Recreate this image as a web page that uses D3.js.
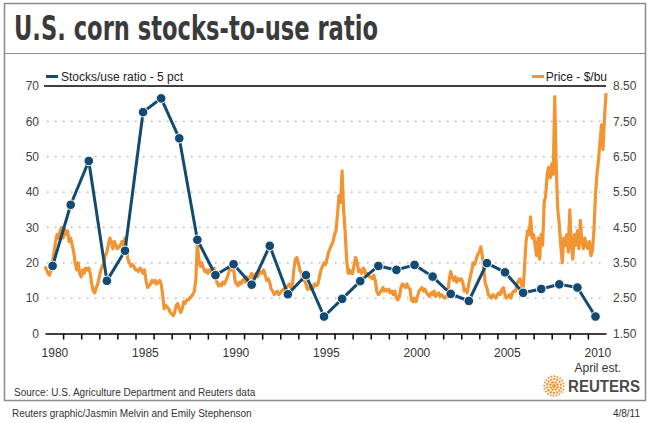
<!DOCTYPE html>
<html lang="en">
<head>
  <meta charset="UTF-8">
  <script src="https://d3js.org/d3.v7.min.js"></script>
  <style>
    body { margin: 0; background: #fff; }
    svg text { font-family: "Liberation Sans", Arial, sans-serif; }
  </style>
</head>
<body>
<div id="my_dataviz"></div>
<script>
  // crop years, one stocks/use ratio point per year (pct)
  var years = [1980, 1981, 1982, 1983, 1984, 1985, 1986, 1987, 1988, 1989,
               1990, 1991, 1992, 1993, 1994, 1995, 1996, 1997, 1998, 1999,
               2000, 2001, 2002, 2003, 2004, 2005, 2006, 2007, 2008, 2009, 2010];
  var stocksToUse = [19.1, 36.4, 48.8, 14.9, 23.4, 62.6, 66.5, 55.2, 26.5, 16.5,
                     19.6, 13.8, 24.8, 11.1, 16.5, 4.8, 9.8, 14.8, 19.1, 18.0,
                     19.4, 16.1, 11.2, 9.2, 19.9, 17.3, 11.5, 12.6, 13.9, 13.0, 4.8];

  // corn price, $/bu, one value per month starting Jan 1980
  var priceStart = 1980;
  var priceMonthly = [
    3.4, 3.3, 3.2, 3.15, 3.3, 3.5, 3.8, 4.1, 4.3, 4.2, 4.4, 4.5,        // 1980
    4.2, 4.45, 4.3, 4.4, 4.1, 4.2, 4.0, 3.8, 3.5, 3.3, 3.5, 3.2,        // 1981
    3.1, 3.3, 3.2, 3.35, 3.3, 3.35, 3.2, 2.9, 2.7, 2.65, 2.8, 2.9,      // 1982
    3.1, 3.3, 3.4, 3.5, 3.7, 3.8, 4.0, 4.2, 4.1, 3.9, 4.1, 4.0,         // 1983
    3.9, 3.95, 4.0, 4.1, 4.0, 4.2, 3.9, 3.6, 3.5, 3.4, 3.45, 3.4,       // 1984
    3.3, 3.3, 3.25, 3.35, 3.3, 3.2, 3.3, 3.0, 2.8, 2.85, 2.9, 3.0,      // 1985
    2.95, 3.0, 2.9, 2.95, 3.0, 2.9, 2.6, 2.2, 2.3, 2.25, 2.2, 2.1,      // 1986
    2.05, 2.0, 2.1, 2.3, 2.35, 2.2, 2.1, 2.2, 2.4, 2.35, 2.45, 2.45,    // 1987
    2.5, 2.55, 2.6, 2.7, 3.0, 4.05, 3.6, 3.4, 3.5, 3.35, 3.25, 3.3,     // 1988
    3.2, 3.3, 3.25, 3.15, 3.35, 3.1, 2.95, 2.85, 2.9, 2.85, 2.95, 2.9,  // 1989
    3.0, 3.1, 3.25, 3.4, 3.3, 3.35, 3.0, 2.9, 2.85, 2.95, 2.9, 3.0,     // 1990
    3.05, 2.95, 3.1, 3.05, 3.1, 3.2, 3.05, 3.15, 3.2, 3.1, 3.2, 3.25,   // 1991
    3.2, 3.3, 3.15, 3.0, 3.05, 2.95, 2.75, 2.7, 2.6, 2.65, 2.7, 2.6,    // 1992
    2.65, 2.7, 2.75, 2.65, 2.8, 2.85, 2.9, 2.8, 2.85, 3.3, 3.6, 3.65,   // 1993
    3.5, 3.3, 3.2, 3.0, 3.05, 2.9, 2.75, 2.8, 2.75, 2.85, 2.8, 2.9,     // 1994
    2.85, 2.9, 3.1, 3.3, 3.4, 3.5, 3.45, 3.6, 3.8, 3.9, 4.0, 4.1,       // 1995
    4.3, 4.4, 4.9, 5.4, 5.2, 6.1, 5.0, 4.4, 3.6, 3.2, 3.3, 3.2,         // 1996
    3.2, 3.45, 3.65, 3.5, 3.25, 3.3, 3.2, 3.35, 3.3, 3.15, 3.2, 3.1,    // 1997
    3.1, 3.05, 3.15, 3.0, 2.7, 2.6, 2.65, 2.7, 2.8, 2.7, 2.75, 2.7,     // 1998
    2.75, 2.65, 2.7, 2.6, 2.7, 2.5, 2.45, 2.55, 2.8, 2.9, 2.85, 2.8,    // 1999
    2.9, 2.8, 2.75, 2.45, 2.4, 2.5, 2.4, 2.55, 2.7, 2.75, 2.8, 2.7,     // 2000
    2.75, 2.65, 2.6, 2.55, 2.65, 2.6, 2.7, 2.55, 2.6, 2.65, 2.55, 2.6,  // 2001
    2.55, 2.5, 2.55, 2.6, 3.0, 3.25, 3.1, 3.0, 3.1, 2.95, 3.05, 3.0,    // 2002
    3.05, 2.95, 2.7, 2.75, 2.65, 2.9, 3.1, 3.3, 3.5, 3.45, 3.6, 3.75,   // 2003
    3.8, 3.95, 3.7, 3.3, 2.9, 2.8, 2.6, 2.55, 2.5, 2.6, 2.55, 2.5,      // 2004
    2.6, 2.65, 2.6, 2.75, 2.8, 2.6, 2.5, 2.55, 2.6, 2.5, 2.65, 2.7,     // 2005
    2.7, 2.9, 3.0, 3.05, 2.9, 2.7, 3.4, 4.1, 4.4, 4.3, 4.8, 4.2,        // 2006
    4.3, 4.0, 3.7, 4.2, 3.6, 4.3, 4.0, 5.2, 5.4, 6.0, 6.2, 5.9,         // 2007
    6.3, 6.0, 8.2, 6.2, 5.0, 4.6, 4.0, 3.5, 4.2, 4.0, 4.3, 3.8,         // 2008
    5.0, 4.0, 3.6, 4.3, 4.0, 4.4, 3.9, 4.7, 4.1, 3.9, 4.2, 4.0,         // 2009
    3.9, 4.1, 3.7, 3.85, 4.4, 5.4, 6.0, 6.4, 6.9, 7.4, 6.7, 7.6,        // 2010
    8.3                                                                 // 2011
  ];

  var ratioTicks = [0, 10, 20, 30, 40, 50, 60, 70];
  var priceTicks = ["1.50", "2.50", "3.50", "4.50", "5.50", "6.50", "7.50", "8.50"];
  var yearLabels = [1980, 1985, 1990, 1995, 2000, 2005, 2010];

  var blue = "#124a72";
  var orange = "#f39432";

  var svg = d3.select("#my_dataviz")
    .append("svg")
    .attr("width", 650)
    .attr("height", 423);

  svg.append("rect").attr("width", 650).attr("height", 423).attr("fill", "#fff");

  // frame
  svg.append("rect")
    .attr("x", 4.5).attr("y", 3.5)
    .attr("width", 641).attr("height", 397)
    .attr("fill", "none")
    .attr("stroke", "#8a8a8a")
    .attr("stroke-width", 1.5);

  // title
  svg.append("text")
    .attr("x", 14).attr("y", 40)
    .attr("textLength", 364)
    .attr("lengthAdjust", "spacingAndGlyphs")
    .style("font-family", "'Liberation Sans Narrow', 'DejaVu Sans Condensed', sans-serif")
    .style("font-size", "34px")
    .style("font-weight", "bold")
    .attr("fill", "#3a3a3a")
    .text("U.S. corn stocks-to-use ratio");

  svg.append("line")
    .attr("x1", 5).attr("x2", 645)
    .attr("y1", 53.5).attr("y2", 53.5)
    .attr("stroke", "#8a8a8a").attr("stroke-width", 1);

  // scales
  var x = d3.scaleLinear().domain([1980, 2011]).range([45, 606]);
  var y = d3.scaleLinear().domain([0, 70]).range([333.5, 86]);
  var yPrice = d3.scaleLinear().domain([1.5, 8.5]).range([333.5, 86]);

  // dotted grid
  svg.append("g")
    .selectAll("line")
    .data(ratioTicks.slice(1, 7))
    .enter()
    .append("line")
      .attr("x1", 47).attr("x2", 605)
      .attr("y1", function(d) { return y(d); })
      .attr("y2", function(d) { return y(d); })
      .attr("stroke", "#a8a8a8")
      .attr("stroke-width", 1.2)
      .attr("stroke-dasharray", "1.5,6.5");

  // top rule
  svg.append("line")
    .attr("x1", 44).attr("x2", 606)
    .attr("y1", y(70)).attr("y2", y(70))
    .attr("stroke", "#000").attr("stroke-width", 1.5);

  // x axis with year-boundary ticks
  var xAxis = svg.append("g")
    .attr("transform", "translate(0," + y(0) + ")")
    .call(d3.axisBottom(x)
      .tickValues(years.slice(1))
      .tickSize(6)
      .tickSizeOuter(0)
      .tickFormat(""));
  xAxis.select(".domain").attr("stroke", "#000").attr("stroke-width", 1.5);
  xAxis.selectAll(".tick line").attr("stroke", "#000").attr("stroke-width", 1.5);

  svg.append("g")
    .selectAll("text")
    .data(yearLabels)
    .enter()
    .append("text")
      .attr("x", function(d) { return x(d + 0.55); })
      .attr("y", 357)
      .attr("text-anchor", "middle")
      .style("font-size", "12px")
      .attr("fill", "#333")
      .text(function(d) { return d; });

  svg.append("text")
    .attr("x", x(2010.55)).attr("y", 372)
    .attr("text-anchor", "middle")
    .style("font-size", "12px")
    .attr("fill", "#333")
    .text("April est.");

  // left axis
  var yAxis = svg.append("g")
    .attr("transform", "translate(45,0)")
    .call(d3.axisLeft(y).tickValues(ratioTicks).tickSize(0).tickPadding(6));
  yAxis.select(".domain").remove();
  yAxis.selectAll("text").style("font-size", "12px").attr("fill", "#444")
    .style("font-family", "'Liberation Sans', Arial, sans-serif");

  // right axis
  var yAxisR = svg.append("g")
    .attr("transform", "translate(605,0)")
    .call(d3.axisRight(yPrice).tickValues(priceTicks.map(Number)).tickSize(0).tickPadding(8)
      .tickFormat(function(d, i) { return priceTicks[i]; }));
  yAxisR.select(".domain").remove();
  yAxisR.selectAll("text").style("font-size", "12px").attr("fill", "#444")
    .style("font-family", "'Liberation Sans', Arial, sans-serif");

  // price line
  var priceData = priceMonthly.map(function(p, i) { return { t: priceStart + i / 12, p: p }; });
  svg.append("path")
    .datum(priceData)
    .attr("fill", "none")
    .attr("stroke", orange)
    .attr("stroke-width", 3.2)
    .attr("stroke-linejoin", "round")
    .attr("d", d3.line()
      .x(function(d) { return x(d.t); })
      .y(function(d) { return yPrice(d.p); }));

  // stocks/use line + dots (plotted mid crop year)
  var ratioData = years.map(function(yr, i) { return { t: yr + 0.42, v: stocksToUse[i] }; });
  svg.append("path")
    .datum(ratioData)
    .attr("fill", "none")
    .attr("stroke", blue)
    .attr("stroke-width", 3)
    .attr("d", d3.line()
      .x(function(d) { return x(d.t); })
      .y(function(d) { return y(d.v); }));

  svg.append("g")
    .selectAll("circle")
    .data(ratioData)
    .enter()
    .append("circle")
      .attr("cx", function(d) { return x(d.t); })
      .attr("cy", function(d) { return y(d.v); })
      .attr("r", 4.8)
      .attr("fill", blue)
      .attr("stroke", "#fff")
      .attr("stroke-width", 1);

  // legend
  svg.append("line").attr("x1", 46).attr("x2", 58).attr("y1", 76.5).attr("y2", 76.5)
    .attr("stroke", blue).attr("stroke-width", 3);
  svg.append("text").attr("x", 61).attr("y", 80.5)
    .style("font-size", "12px").attr("fill", "#222")
    .text("Stocks/use ratio - 5 pct");
  svg.append("line").attr("x1", 532).attr("x2", 544).attr("y1", 76.5).attr("y2", 76.5)
    .attr("stroke", orange).attr("stroke-width", 3);
  svg.append("text").attr("x", 607).attr("y", 80.5)
    .attr("text-anchor", "end")
    .style("font-size", "12px").attr("fill", "#222")
    .text("Price - $/bu");

  // source
  svg.append("text").attr("x", 14).attr("y", 396)
    .style("font-size", "10px").attr("fill", "#333")
    .text("Source: U.S. Agriculture Department and Reuters data");

  // Reuters mark
  var logo = svg.append("g").attr("transform", "translate(554,386)");
  [[0, 1, 2.0], [3.8, 8, 1.3], [7, 14, 1.2], [9.8, 20, 1.0]].forEach(function(ring) {
    for (var k = 0; k < ring[1]; k++) {
      var a = k / ring[1] * 2 * Math.PI + ring[0] * 0.1;
      logo.append("circle")
        .attr("cx", ring[0] * Math.cos(a))
        .attr("cy", ring[0] * Math.sin(a))
        .attr("r", ring[2])
        .attr("fill", orange);
    }
  });
  svg.append("text").attr("x", 568).attr("y", 392)
    .attr("textLength", 72)
    .attr("lengthAdjust", "spacingAndGlyphs")
    .style("font-size", "16px").style("font-weight", "bold")
    .attr("fill", "#4a4a4a")
    .text("REUTERS");

  // footer
  svg.append("text").attr("x", 12).attr("y", 417)
    .style("font-size", "10px").attr("fill", "#333")
    .text("Reuters graphic/Jasmin Melvin and Emily Stephenson");
  svg.append("text").attr("x", 640).attr("y", 417)
    .attr("text-anchor", "end")
    .style("font-size", "10px").attr("fill", "#333")
    .text("4/8/11");
</script>
</body>
</html>
